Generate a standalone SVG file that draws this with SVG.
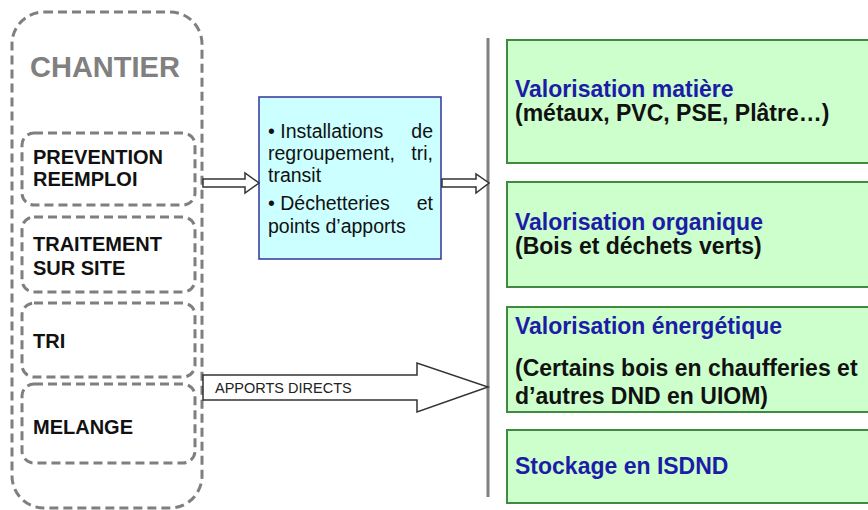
<svg xmlns="http://www.w3.org/2000/svg" width="868" height="510" viewBox="0 0 868 510">
<defs>
<style>
.dash{fill:#fff;stroke:#7f7f7f;stroke-width:3;stroke-dasharray:9 5}
.lbl{font-family:"Liberation Sans",Arial,sans-serif;font-weight:bold;font-size:20px;fill:#111}
.blue{fill:#ccffff;stroke:#333399;stroke-width:1.5}
.btxt{font-family:"Liberation Sans",Arial,sans-serif;font-size:19.5px;fill:#111}
.green{fill:#ccffcc;stroke:#3f8a3f;stroke-width:2}
.gt{font-family:"Liberation Sans",Arial,sans-serif;font-weight:bold;font-size:23px}
.gb{fill:#1c1ca6}
.gk{fill:#111}
.arr{fill:#fff;stroke:#333;stroke-width:1.5;stroke-linejoin:miter}
</style>
</defs>
<rect width="868" height="510" fill="#fff"/>
<g id="chantier">
<rect class="dash" x="12" y="12" width="190" height="496" rx="32"/>
<text x="30" y="77" font-family="Liberation Sans,Arial,sans-serif" font-weight="bold" font-size="29" fill="#808080">CHANTIER</text>
</g>
<g id="prevention">
<rect class="dash" x="22" y="133" width="173" height="72" rx="12"/>
<text class="lbl" x="33" y="164">PREVENTION</text>
<text class="lbl" x="33" y="186">REEMPLOI</text>
</g>
<g id="traitement">
<rect class="dash" x="22" y="217" width="173" height="75" rx="12"/>
<text class="lbl" x="33" y="251">TRAITEMENT</text>
<text class="lbl" x="33" y="275">SUR SITE</text>
</g>
<g id="tri">
<rect class="dash" x="22" y="303" width="173" height="74" rx="12"/>
<text class="lbl" x="33" y="348">TRI</text>
</g>
<g id="melange">
<rect class="dash" x="22" y="384" width="173" height="79" rx="12"/>
<text class="lbl" x="33" y="434">MELANGE</text>
</g>
<g id="installations">
<rect class="blue" x="259" y="97" width="182" height="162"/>
<text class="btxt" x="268" y="138">• Installations</text>
<text class="btxt" x="433" y="138" text-anchor="end">de</text>
<text class="btxt" x="268" y="160">regroupement,</text>
<text class="btxt" x="433" y="160" text-anchor="end">tri,</text>
<text class="btxt" x="268" y="182">transit</text>
<text class="btxt" x="268" y="210">• Déchetteries</text>
<text class="btxt" x="433" y="210" text-anchor="end">et</text>
<text class="btxt" x="268" y="233">points d’apports</text>
</g>
<g id="matiere">
<rect class="green" x="507" y="40" width="370" height="123"/>
<text class="gt gb" x="515" y="97">Valorisation matière</text>
<text class="gt gk" x="515" y="121">(métaux, PVC, PSE, Plâtre…)</text>
</g>
<g id="organique">
<rect class="green" x="507" y="182" width="370" height="105"/>
<text class="gt gb" x="515" y="230">Valorisation organique</text>
<text class="gt gk" x="515" y="254">(Bois et déchets verts)</text>
</g>
<g id="energetique">
<rect class="green" x="507" y="307" width="370" height="105"/>
<text class="gt gb" x="515" y="334">Valorisation énergétique</text>
<text class="gt gk" x="515" y="376">(Certains bois en chaufferies et</text>
<text class="gt gk" x="515" y="404">d’autres DND en UIOM)</text>
</g>
<g id="stockage">
<rect class="green" x="507" y="430" width="370" height="73"/>
<text class="gt gb" x="515" y="474">Stockage en ISDND</text>
</g>
<g id="connectors">
<line x1="488" y1="38" x2="488" y2="497" stroke="#808080" stroke-width="3"/>
<polygon class="arr" points="203,179 245,179 245,173 259,183 245,193 245,187 203,187"/>
<polygon class="arr" points="442,179 476,179 476,174 489,183 476,193 476,187 442,187"/>
<polygon class="arr" points="203,375 417,375 417,363 488,387 417,412 417,400 203,400"/>
<text x="215" y="393" font-family="Liberation Sans,Arial,sans-serif" font-size="14.5" fill="#222">APPORTS DIRECTS</text>
</g>
</svg>
